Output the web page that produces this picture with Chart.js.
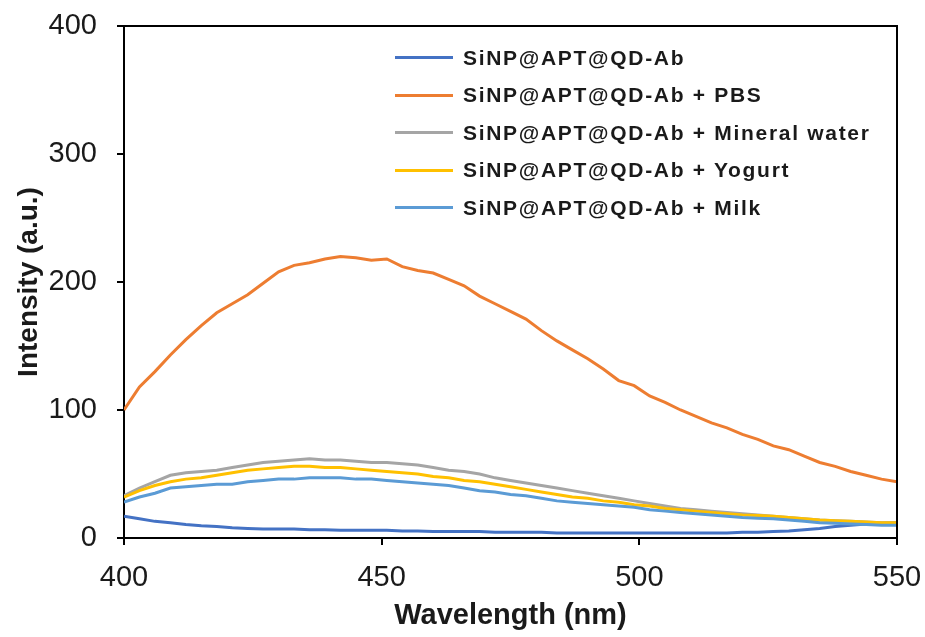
<!DOCTYPE html>
<html>
<head>
<meta charset="utf-8">
<script src="https://cdn.jsdelivr.net/npm/chart.js@4"></script>
<style>
    body { margin: 0; background: #fff; }
    #wrap { position: relative; width: 925px; height: 637px; }
    #legend { position: absolute; left: 395px; top: 39px; font-family: "Liberation Sans", Arial, sans-serif; font-weight: bold; font-size: 21px; letter-spacing: 1.7px; color: #1a1a1a; }
    .row { display: flex; align-items: center; height: 37.5px; white-space: nowrap; }
    .swatch { width: 58px; height: 3px; margin-right: 10px; }
</style>
</head>
<body>
<div id="wrap">
    <canvas id="spectra" width="925" height="637"></canvas>
    <div id="legend"></div>
</div>
<script>
// wavelength (nm), every 3 nm
const wavelengths = [400, 403, 406, 409, 412, 415, 418, 421, 424, 427, 430, 433, 436, 439, 442, 445, 448, 451, 454, 457,
    460, 463, 466, 469, 472, 475, 478, 481, 484, 487, 490, 493, 496, 499, 502, 505, 508, 511, 514, 517,
    520, 523, 526, 529, 532, 535, 538, 541, 544, 547, 550];

const seriesNames = [
    'SiNP@APT@QD-Ab',
    'SiNP@APT@QD-Ab + PBS',
    'SiNP@APT@QD-Ab + Mineral water',
    'SiNP@APT@QD-Ab + Yogurt',
    'SiNP@APT@QD-Ab + Milk'
];
const seriesColors = ['#4472C4', '#ED7D31', '#A5A5A5', '#FFC000', '#5B9BD5'];

const blank = [17, 15, 13, 12, 10.5, 9.5, 9, 8, 7.5, 7, 7, 7, 6.5, 6.5, 6, 6, 6, 6, 5.5, 5.5,
    5, 5, 5, 5, 4.5, 4.5, 4.5, 4.5, 4, 4, 4, 4, 4, 4, 4, 4, 4, 4, 4, 4,
    4.5, 4.5, 5, 5.5, 6.5, 7.5, 9, 10, 11, 11.5, 12];
const pbs = [100, 118, 130, 143, 155, 166, 176, 183, 190, 199, 208, 213, 215, 218, 220, 219, 217, 218, 212, 209,
    207, 202, 197, 189, 183, 177, 171, 162, 154, 147, 140, 132, 123, 119, 111, 106, 100, 95, 90, 86,
    81, 77, 72, 69, 64, 59, 56, 52, 49, 46, 44];
const mineralWater = [33, 39, 44, 49, 51, 52, 53, 55, 57, 59, 60, 61, 62, 61, 61, 60, 59, 59, 58, 57,
    55, 53, 52, 50, 47, 45, 43, 41, 39, 37, 35, 33, 31, 29, 27, 25, 23, 22, 21, 20,
    19, 18, 17, 16, 15, 14, 13.5, 13, 12.5, 12, 12];
const yogurt = [32, 37, 41, 44, 46, 47, 49, 51, 53, 54, 55, 56, 56, 55, 55, 54, 53, 52, 51, 50,
    48, 47, 45, 44, 42, 40, 38, 36, 34, 32, 31, 29, 28, 26, 25, 23, 22, 21, 20, 19,
    18, 17.5, 17, 16, 15, 14, 13.5, 13, 12.5, 12, 12];
const milk = [28, 32, 35, 39, 40, 41, 42, 42, 44, 45, 46, 46, 47, 47, 47, 46, 46, 45, 44, 43,
    42, 41, 39, 37, 36, 34, 33, 31, 29, 28, 27, 26, 25, 24, 22, 21, 20, 19, 18, 17,
    16, 15.5, 15, 14, 13, 12, 11.5, 11, 10.5, 10, 10];

const allSeries = [blank, pbs, mineralWater, yogurt, milk];

const xTicks = [400, 450, 500, 550];
const yTicks = [0, 100, 200, 300, 400];

const FONT = '"Liberation Sans", Arial, sans-serif';

// top and right edges of the plot frame
const frameBox = {
    id: 'frameBox',
    afterDatasetsDraw(chart) {
        const { ctx, chartArea } = chart;
        ctx.save();
        ctx.strokeStyle = '#000';
        ctx.lineWidth = 2;
        ctx.beginPath();
        ctx.moveTo(chartArea.left, chartArea.top);
        ctx.lineTo(chartArea.right, chartArea.top);
        ctx.lineTo(chartArea.right, chartArea.bottom);
        ctx.stroke();
        ctx.restore();
    }
};

function buildDatasets() {
    return allSeries.map((values, i) => ({
        label: seriesNames[i],
        data: values.map((v, j) => ({ x: wavelengths[j], y: v })),
        borderColor: seriesColors[i],
        borderWidth: 3,
        pointRadius: 0,
        tension: 0,
        order: allSeries.length - i
    }));
}

function buildLegend() {
    const box = document.getElementById('legend');
    box.innerHTML = seriesNames.map((name, i) => `
        <div class="row">
            <div class="swatch" style="background:${seriesColors[i]}"></div>
            <span>${name}</span>
        </div>
    `).join('');
}

const chart = new Chart(document.getElementById('spectra'), {
    type: 'line',
    data: { datasets: buildDatasets() },
    options: {
        responsive: false,
        animation: false,
        layout: { padding: { top: 26, right: 28, left: 0, bottom: 0 } },
        plugins: {
            legend: { display: false },
            tooltip: { enabled: false }
        },
        scales: {
            x: {
                type: 'linear',
                min: xTicks[0],
                max: xTicks[xTicks.length - 1],
                afterFit: s => { s.height = 99; s.paddingLeft = 0; s.paddingRight = 0; },
                afterBuildTicks: s => { s.ticks = xTicks.map(v => ({ value: v })); },
                border: { color: '#000', width: 2 },
                grid: { drawOnChartArea: false, color: '#000', lineWidth: 2, tickLength: 7 },
                ticks: { color: '#1a1a1a', font: { family: FONT, size: 29 }, padding: 16 },
                title: {
                    display: true,
                    text: 'Wavelength (nm)',
                    color: '#1a1a1a',
                    font: { family: FONT, size: 29, weight: 'bold' },
                    padding: { top: 2 }
                }
            },
            y: {
                min: yTicks[0],
                max: yTicks[yTicks.length - 1],
                afterFit: s => { s.width = 124; s.paddingTop = 0; s.paddingBottom = 0; },
                afterBuildTicks: s => { s.ticks = yTicks.map(v => ({ value: v })); },
                border: { color: '#000', width: 2 },
                grid: { drawOnChartArea: false, color: '#000', lineWidth: 2, tickLength: 7 },
                ticks: { color: '#1a1a1a', font: { family: FONT, size: 29 }, padding: 20 },
                title: {
                    display: true,
                    text: 'Intensity (a.u.)',
                    color: '#1a1a1a',
                    font: { family: FONT, size: 28, weight: 'bold' },
                    padding: { top: 12, bottom: 0 }
                }
            }
        }
    },
    plugins: [frameBox]
});

buildLegend();
</script>
</body>
</html>
